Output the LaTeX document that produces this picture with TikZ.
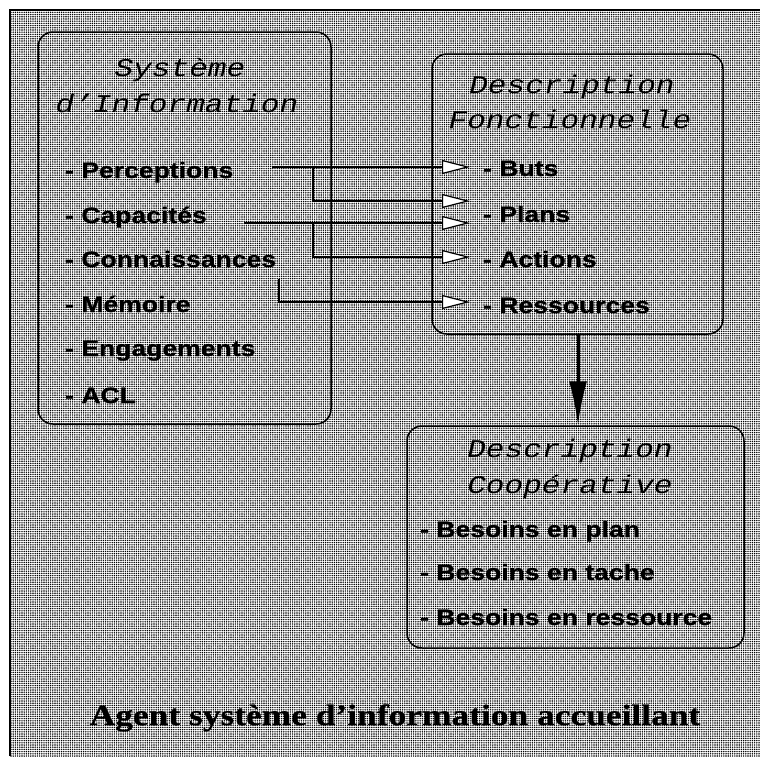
\documentclass[tikz,border=0pt]{standalone}
\usepackage{fontspec}
\usetikzlibrary{arrows.meta,patterns.meta}
\newfontfamily\hdrfont[FakeStretch=1.22]{Liberation Mono}
\newfontfamily\itmfont[FakeStretch=1.19, BoldFeatures={FakeBold=0.8}]{Liberation Sans}
\newfontfamily\ttlfont[FakeStretch=1.2, BoldFeatures={FakeBold=0.6}]{Liberation Serif}
\begin{document}
\begin{tikzpicture}[x=1pt,y=-1pt,
  box/.style={draw, line width=1.5pt, rounded corners=15pt, inner sep=0pt},
  hdr/.style={font=\hdrfont\itshape\fontsize{25.5}{25.5}\selectfont, inner sep=0pt, anchor=base},
  itm/.style={font=\itmfont\bfseries\fontsize{22.3}{22.3}\selectfont, inner sep=0pt, anchor=base west},
  ttl/.style={font=\ttlfont\bfseries\fontsize{29.5}{29.5}\selectfont, inner sep=0pt, anchor=base},
  conn/.style={line width=1.6pt, -{Triangle[length=28pt,width=14pt,fill=white,line width=1.2pt]}},
  big/.style={line width=3pt, -{Latex[length=44pt,width=18pt]}}]
\useasboundingbox (0,0) rectangle (760,756);
\path[pattern={Dots[radius=0.8pt, distance=2.2pt]}, pattern color=black] (10,10) rectangle (760,756);
\draw[line width=2pt] (10,756) -- (10,10) -- (760,10);

% boxes
\node[box, minimum width=293pt, minimum height=392pt] (sysinfo) at (184.5,228) {};
\node[box, minimum width=291pt, minimum height=280pt] (fonc) at (577.5,194) {};
\node[box, minimum width=337pt, minimum height=222pt] (coop) at (575.5,537) {};

% headers
\node[hdr] (h1a) at (180,76) {Système};
\node[hdr] (h1b) at (177,112) {d’Information};
\node[hdr] (h2a) at (572,93) {Description};
\node[hdr] (h2b) at (570,128) {Fonctionnelle};
\node[hdr] (h3a) at (570,457) {Description};
\node[hdr] (h3b) at (570,493) {Coopérative};

% left items
\node[itm] (perc) at (65,178) {- Perceptions};
\node[itm] (capa) at (65,223) {- Capacités};
\node[itm] (conn) at (65,267) {- Connaissances};
\node[itm] (memo) at (65,312) {- Mémoire};
\node[itm] (enga) at (65,356) {- Engagements};
\node[itm] (acl) at (65,403) {- ACL};

% right items
\node[itm] (buts) at (483,176) {- Buts};
\node[itm] (plans) at (483,222) {- Plans};
\node[itm] (actions) at (483,267) {- Actions};
\node[itm] (ress) at (483,313) {- Ressources};

% bottom items
\node[itm] (bplan) at (420,537) {- Besoins en plan};
\node[itm] (btache) at (420,580) {- Besoins en tache};
\node[itm] (bress) at (420,625) {- Besoins en ressource};

% title
\node[ttl] (title) at (395,725) {Agent système d’information accueillant};

% connector points
\coordinate (s1) at (272,167);
\coordinate (j1) at (313,167);
\coordinate (t1) at (470,167);
\coordinate (t2) at (470,201);
\coordinate (s2) at (244,223);
\coordinate (j2) at (313,223);
\coordinate (t3) at (470,223);
\coordinate (t4) at (470,257);
\coordinate (s3) at (279,279);
\coordinate (t5) at (470,302);

\draw[conn] (s1) -- (t1);
\draw[conn] (j1) |- (t2);
\draw[conn] (s2) -- (t3);
\draw[conn] (j2) |- (t4);
\draw[conn] (s3) |- (t5);

\draw[big] (fonc.south -| 578,0) -- (coop.north -| 578,0);
\end{tikzpicture}
\end{document}
